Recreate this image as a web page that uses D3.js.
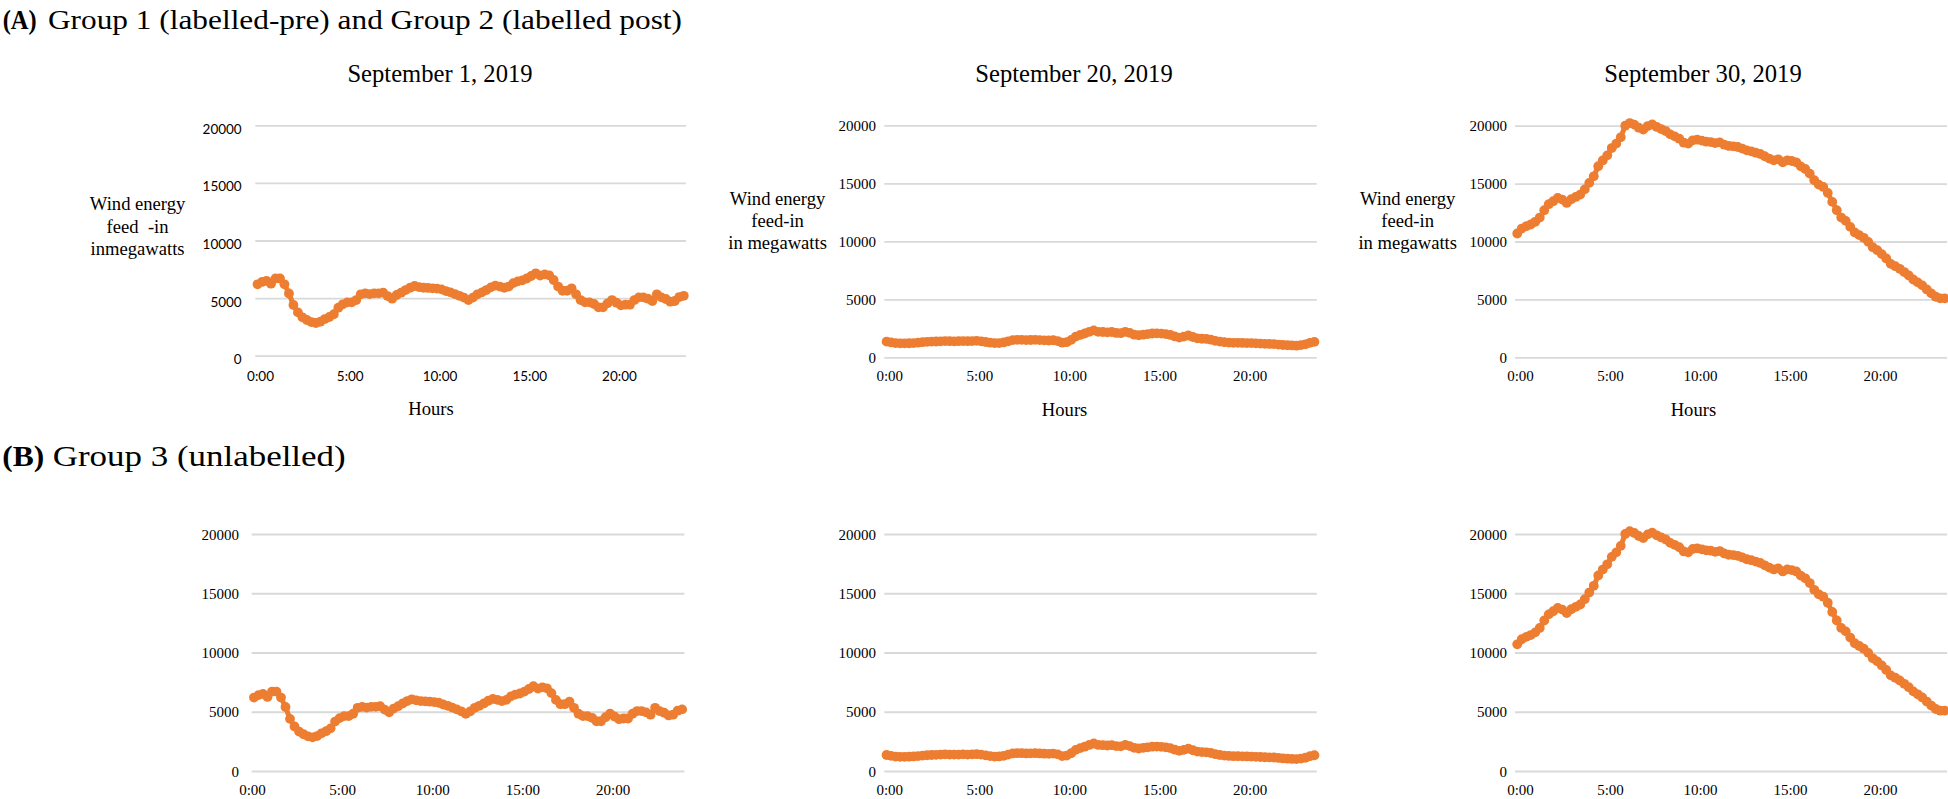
<!DOCTYPE html>
<html><head><meta charset="utf-8">
<script src="https://cdn.jsdelivr.net/npm/d3@7"></script>
<style>
html,body{margin:0;padding:0;background:#fff;}
svg{display:block;font-family:"Liberation Serif","Times New Roman",serif;}
</style></head><body>
<svg id="chart" width="1948" height="799"></svg>
<script>
// ---------- data ----------
const hourLabels = ["0:00", "5:00", "10:00", "15:00", "20:00"];
const hourLabelIndex = [0, 20, 40, 60, 80];
const yTicks = [0, 5000, 10000, 15000, 20000];
const dateTitles = ["September 1, 2019", "September 20, 2019", "September 30, 2019"];
const groupLetters = ["(A)", "(B)"];
const groupTitles = ["Group 1 (labelled-pre) and Group 2 (labelled post)", "Group 3 (unlabelled)"];
const yLabelFirst = ["Wind energy", "feed  -in", "inmegawatts"];
const yLabelOther = ["Wind energy", "feed-in", "in megawatts"];
const xTitle = "Hours";

// quarter-hour wind feed-in (MW), 0:00 .. 23:45
const sep1 = [
  6200, 6400, 6500, 6250,   6700, 6700, 6200, 5400,
  4400, 3760, 3330, 3100,   2920, 2840, 2950, 3180,
  3360, 3600, 4170, 4460,   4630, 4630, 4830, 5330,
  5410, 5350, 5410, 5410,   5470, 5180, 4950, 5270,
  5470, 5700, 5900, 6050,   5960, 5900, 5880, 5850,
  5820, 5760, 5610, 5500,   5350, 5200, 5040, 4830,
  5040, 5330, 5500, 5700,   5930, 6080, 6000, 5900,
  6000, 6300, 6450, 6540,   6700, 6920, 7150, 6950,
  7060, 6980, 6570, 6000,   5640, 5640, 5850, 5330,
  4830, 4630, 4630, 4490,   4200, 4200, 4540, 4830,
  4600, 4370, 4430, 4430,   4830, 5060, 5060, 4950,
  4750, 5330, 5060, 4920,   4690, 4750, 5090, 5200
];
const sep20 = [
  1350, 1280, 1220, 1200,   1200, 1210, 1230, 1260,
  1300, 1330, 1350, 1360,   1380, 1400, 1390, 1380,
  1390, 1400, 1390, 1400,   1420, 1380, 1320, 1260,
  1220, 1230, 1280, 1380,   1480, 1500, 1500, 1480,
  1490, 1500, 1480, 1460,   1450, 1470, 1400, 1260,
  1300, 1500, 1780, 1930,   2050, 2200, 2320, 2200,
  2180, 2150, 2180, 2100,   2080, 2200, 2100, 1950,
  1900, 1950, 2000, 2050,   2060, 2040, 2000, 1930,
  1800, 1700, 1780, 1880,   1750, 1640, 1600, 1580,
  1520, 1420, 1350, 1300,   1270, 1250, 1250, 1240,
  1230, 1220, 1200, 1180,   1160, 1150, 1140, 1100,
  1060, 1040, 1020, 1000,   1050, 1120, 1250, 1330
];
const sep30 = [
  10690, 11120, 11320, 11470,   11700, 12070, 12700, 13220,
  13480, 13760, 13620, 13330,   13650, 13850, 14050, 14500,
  15060, 15630, 16500, 17000,   17440, 18070, 18450, 19000,
  20000, 20230, 20090, 19830,   19660, 19970, 20110, 19890,
  19710, 19540, 19250, 19080,   18880, 18530, 18450, 18740,
  18790, 18710, 18620, 18590,   18500, 18560, 18360, 18250,
  18220, 18160, 18020, 17870,   17790, 17670, 17560, 17360,
  17160, 17010, 17100, 16840,   17010, 16950, 16840, 16490,
  16260, 15860, 15290, 14910,   14710, 14200, 13420, 12700,
  12070, 11780, 11260, 10780,   10550, 10320,  9970,  9510,
   9250,  8910,  8530,  8070,    7870,  7640,  7360,  7070,
   6720,  6470,  6210,  5860,    5520,  5230,  5090,  5090
];

// ---------- layout ----------
const ORANGE = "#ED7D31";
const GRID = "#D9D9D9";
const SERIF = '"Liberation Serif","Times New Roman",serif';
const SANS = 'Lato,"Open Sans",sans-serif';

const panels = [
  {series: sep1,  gl: 255.3, gr: 686,   yTop: 125.3, yBot: 355.7, font: SANS,  fs: 13.5, ydy: 3.5, xdx: 2.5, xBase: 380.8, ypad: 13.6,
   ylab: yLabelFirst, ylx: 137.6, ylBase: [210, 232.5, 255], hx: 431, hBase: 414.5, title: dateTitles[0], tcx: 440},
  {series: sep20, gl: 884.3, gr: 1316.7, yTop: 125.3, yBot: 357.3, font: SERIF, fs: 15, ydy: 0, xdx: 2.7, xBase: 381, ypad: 8.3,
   ylab: yLabelOther, ylx: 777.6, ylBase: [205, 227, 249], hx: 1064.6, hBase: 415.5, title: dateTitles[1], tcx: 1074},
  {series: sep30, gl: 1515, gr: 1947, yTop: 125.7, yBot: 357.3, font: SERIF, fs: 15, ydy: 0, xdx: 2.7, xBase: 381, ypad: 8,
   ylab: yLabelOther, ylx: 1407.7, ylBase: [205, 227, 249], hx: 1693.4, hBase: 416, title: dateTitles[2], tcx: 1703},
  {series: sep1,  gl: 251.7, gr: 684.4, yTop: 534, yBot: 771, font: SERIF, fs: 15, ydy: 0, xdx: -2, xBase: 794.5, ypad: 12.7},
  {series: sep20, gl: 884.3, gr: 1316.7, yTop: 534, yBot: 771, font: SERIF, fs: 15, ydy: 0, xdx: 2.7, xBase: 794.5, ypad: 8.3},
  {series: sep30, gl: 1515, gr: 1947, yTop: 534, yBot: 771, font: SERIF, fs: 15, ydy: 0, xdx: 2.7, xBase: 794.5, ypad: 8}
];

const svg = d3.select("#chart");

// group headings
const headings = [
  {letter: groupLetters[0], lx: 2.7, lw: 34, text: groupTitles[0], tx: 48, tw: 634, base: 29, fs: 26.5},
  {letter: groupLetters[1], lx: 2.2, lw: 42, text: groupTitles[1], tx: 52.7, tw: 293, base: 466, fs: 29.5}
];
headings.forEach(h => {
  svg.append("text").attr("x", h.lx).attr("y", h.base)
    .attr("font-size", h.fs).attr("font-weight", "bold")
    .attr("textLength", h.lw).attr("lengthAdjust", "spacingAndGlyphs")
    .text(h.letter);
  svg.append("text").attr("x", h.tx).attr("y", h.base)
    .attr("font-size", h.fs)
    .attr("textLength", h.tw).attr("lengthAdjust", "spacingAndGlyphs")
    .text(h.text);
});

const idx = d3.range(96);

panels.forEach(p => {
  const g = svg.append("g");
  const x = d3.scalePoint().domain(idx).range([p.gl, p.gr]).padding(0.5);
  const y = d3.scaleLinear().domain([0, 20000]).range([p.yBot, p.yTop]);

  // y axis with gridlines
  const ya = g.append("g").attr("transform", `translate(${p.gl},0)`)
    .call(d3.axisLeft(y).tickValues(yTicks).tickFormat(d3.format("d"))
      .tickSize(-(p.gr - p.gl)).tickPadding(p.ypad));
  ya.select(".domain").remove();
  ya.selectAll(".tick line").attr("stroke", GRID).attr("stroke-width", 1.8);
  ya.selectAll(".tick text").attr("fill", "#000")
    .attr("font-family", p.font).attr("font-size", p.fs)
    .attr("dy", "0.34em").attr("y", p.ydy);

  // x axis labels
  const xa = g.append("g").attr("transform", `translate(0,${p.yBot})`)
    .call(d3.axisBottom(x).tickValues(hourLabelIndex)
      .tickFormat(i => hourLabels[hourLabelIndex.indexOf(i)]).tickSize(0));
  xa.select(".domain").remove();
  xa.selectAll(".tick text").attr("fill", "#000")
    .attr("font-family", p.font).attr("font-size", p.fs)
    .attr("x", p.xdx).attr("dy", 0).attr("y", p.xBase - p.yBot);

  // series: line + markers
  g.append("path").datum(p.series)
    .attr("fill", "none").attr("stroke", ORANGE).attr("stroke-width", 5)
    .attr("stroke-linejoin", "round")
    .attr("d", d3.line().x((d, i) => x(i)).y(d => y(d)));
  g.selectAll("circle.pt").data(p.series).join("circle")
    .attr("class", "pt").attr("cx", (d, i) => x(i)).attr("cy", d => y(d))
    .attr("r", 4.9).attr("fill", ORANGE);

  if (p.ylab) {
    const yl = g.append("text").attr("text-anchor", "middle")
      .attr("font-size", 18.6).attr("fill", "#000").style("white-space", "pre");
    p.ylab.forEach((t, k) => yl.append("tspan").attr("x", p.ylx).attr("y", p.ylBase[k]).text(t));
    g.append("text").attr("x", p.hx).attr("y", p.hBase).attr("text-anchor", "middle")
      .attr("font-size", 18.6).attr("fill", "#000").text(xTitle);
    g.append("text").attr("x", p.tcx).attr("y", 81.5).attr("text-anchor", "middle")
      .attr("font-size", 24.6).attr("fill", "#000").text(p.title);
  }
});
</script>
</body></html>
